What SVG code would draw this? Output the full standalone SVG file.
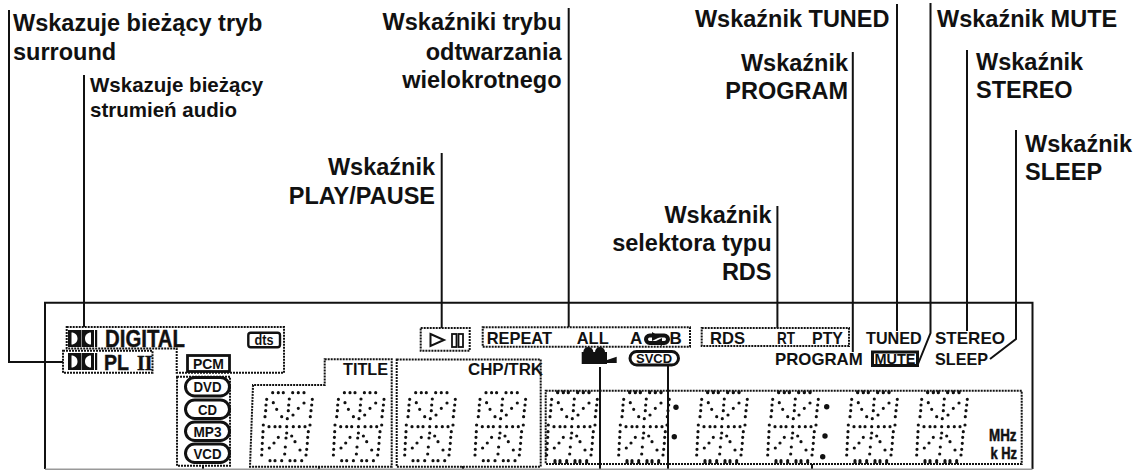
<svg xmlns="http://www.w3.org/2000/svg" width="1144" height="470" viewBox="0 0 1144 470">
<style>
text{font-family:"Liberation Sans",Arial,sans-serif;font-weight:700;fill:#111}
.l{font-size:23.500px}
.s{font-size:20.500px}
.e{text-anchor:end}
.d{font-size:17px}
.m{text-anchor:middle;font-size:15px}
.ln{fill:none;stroke:#111;stroke-width:2}
.box{fill:none;stroke:#111;stroke-width:2;stroke-dasharray:2 1}
.pill{fill:#fff;stroke:#111;stroke-width:3}
.dots{fill:none;stroke:#111;stroke-width:3.200;stroke-linecap:round}
</style>
<defs>
<path id="seg" class="dots" d="M272.700 392.700h0M278.300 392.700h0M283.300 392.700h0M292.700 392.700h0M298.300 392.700h0M304 392.700h0M266.700 399.300h0M266 405h0M265.700 410.700h0M265 416.700h0M273.300 402.700h0M276.700 409.300h0M281.700 416.700h0M287.300 418.700h0M312.300 399.300h0M311.700 405h0M311 410.700h0M310.300 416.700h0M289.300 399h0M288.700 405h0M288.300 410.700h0M304 403h0M298.300 408.300h0M293 415h0M263.300 425h0M269 426.700h0M275 426.700h0M280 426.700h0M286.700 426.700h0M293.300 426.700h0M299.300 426.700h0M305 426.700h0M310 425h0M263 431.700h0M262.700 437.300h0M262.300 443.300h0M262 449.300h0M261.700 455h0M308.300 431.700h0M307.700 437.300h0M307.300 443.300h0M306.700 449.300h0M306 455h0M286.700 433h0M286 438h0M285.300 447h0M284.700 454h0M278.300 437.300h0M274 443h0M269.300 448h0M291.700 436h0M295 441.700h0M300 450h0M270 460.700h0M275 460.700h0M281.700 460.700h0M290 460.700h0M295 460.700h0M301.700 460.700h0"/>
<path id="edge" class="dots" d="M270 462.300h0M275 462.300h0M281.700 462.300h0M290 462.300h0M295 462.300h0M301.700 462.300h0M272.700 391.800h0M278.300 391.800h0M283.300 391.800h0M292.700 391.800h0M298.300 391.800h0M304 391.800h0"/>
<g id="dolby"><path fill="#111" fill-rule="evenodd" d="M0 0H13V17H0ZM3.500 2.500V14.500C7 14.500 9.500 12 9.500 8.500C9.500 5 7 2.500 3.500 2.500Z"/><path fill="#111" fill-rule="evenodd" d="M26 0H13.500V17H26ZM23 2.500V14.500C19.500 14.500 17 12 17 8.500C17 5 19.500 2.500 23 2.500Z"/><rect x="27" y="0" width="2.200" height="17" fill="#111"/></g>
</defs>

<g id="connectors" class="ln">
<path d="M45 469V302.700H1032.500V469"/>
<path d="M9 10V362H63"/>
<path d="M84 75V327"/>
<path d="M441.700 153V328"/>
<path d="M568.700 8V327"/>
<path d="M777.400 206V328"/>
<path d="M852.800 52V352"/>
<path d="M897 4V331"/>
<path d="M930.500 3V333L918 364"/>
<path d="M967 50V331"/>
<path d="M1016 130V339L990 359"/>
<path d="M600 367V470"/>
<path d="M668 366V470"/>
<path d="M203 465V470M319 466V470M463 466V470M812 464V470"/>
</g>
<path id="frame-bottom" d="M45 469.200H1032.500" fill="none" stroke="#999" stroke-width="1.500"/>

<g id="label-surround"><text class="l" x="13" y="31">Wskazuje bieżący tryb</text><text class="l" x="13" y="60">surround</text></g>
<g id="label-audio"><text class="s" x="90" y="92">Wskazuje bieżący</text><text class="s" x="90" y="117">strumień audio</text></g>
<g id="label-playpause"><text class="l e" x="435" y="175">Wskaźnik</text><text class="l e" x="435" y="204">PLAY/PAUSE</text></g>
<g id="label-repeat"><text class="l e" x="561.500" y="30">Wskaźniki trybu</text><text class="l e" x="561.500" y="59.500">odtwarzania</text><text class="l e" x="561.500" y="88">wielokrotnego</text></g>
<g id="label-rds"><text class="l e" x="771.500" y="223">Wskaźnik</text><text class="l e" x="771.500" y="251">selektora typu</text><text class="l e" x="771.500" y="280">RDS</text></g>
<g id="label-program"><text class="l e" x="848" y="71">Wskaźnik</text><text class="l e" x="848" y="99">PROGRAM</text></g>
<g id="label-tuned"><text class="l e" x="889.500" y="26.500">Wskaźnik TUNED</text></g>
<g id="label-mute"><text class="l" x="937" y="26.500">Wskaźnik MUTE</text></g>
<g id="label-stereo"><text class="l" x="976" y="70">Wskaźnik</text><text class="l" x="976" y="98">STEREO</text></g>
<g id="label-sleep"><text class="l" x="1025" y="152">Wskaźnik</text><text class="l" x="1025" y="180">SLEEP</text></g>

<g id="digital">
<path class="box" d="M66.700 327H284V372.700H176.700V348.500H66.700Z"/>
<use href="#dolby" x="68" y="330"/>
<text x="105" y="346.700" font-size="23" stroke="#111" stroke-width=".4" textLength="80" lengthAdjust="spacingAndGlyphs">DIGITAL</text>
<rect x="248.300" y="332.700" width="31.700" height="14.500" rx="2.500" fill="#fff" stroke="#111" stroke-width="2.400"/>
<text x="264" y="345" font-size="14" text-anchor="middle" textLength="19" lengthAdjust="spacingAndGlyphs">dts</text>
</g>
<g id="plii">
<rect class="box" x="63" y="350.700" width="89.500" height="22"/>
<use href="#dolby" x="68" y="353"/>
<text x="104" y="370" font-size="22" stroke="#111" stroke-width=".4" textLength="25" lengthAdjust="spacingAndGlyphs">PL</text>
<text x="137" y="370" font-size="22" stroke="#111" stroke-width=".5" textLength="15.500" lengthAdjust="spacingAndGlyphs" style="font-family:'Liberation Serif',serif">II</text>
</g>
<g id="pcm">
<rect x="187.500" y="355.500" width="42" height="16" fill="#fff" stroke="#111" stroke-width="2.800"/>
<text class="m" x="208.500" y="369" textLength="31" lengthAdjust="spacingAndGlyphs">PCM</text>
</g>
<g id="discs">
<rect class="box" x="177" y="376.700" width="53" height="89"/>
<rect class="pill" x="185.500" y="377.500" width="44" height="18.500" rx="9.200"/>
<rect class="pill" x="185.500" y="400" width="44" height="18.500" rx="9.200"/>
<rect class="pill" x="185.500" y="422" width="44" height="18.500" rx="9.200"/>
<rect class="pill" x="185.500" y="444" width="44" height="18.500" rx="9.200"/>
<text class="m" x="207.500" y="392" font-size="16" textLength="28" lengthAdjust="spacingAndGlyphs">DVD</text>
<text class="m" x="207.500" y="414.500" textLength="19" lengthAdjust="spacingAndGlyphs">CD</text>
<text class="m" x="207.500" y="436.500" textLength="28" lengthAdjust="spacingAndGlyphs">MP3</text>
<text class="m" x="207.500" y="458.500" textLength="28" lengthAdjust="spacingAndGlyphs">VCD</text>
</g>
<g id="title-display">
<path class="box" d="M324.700 359.300H391.700V466.700H250L253 385H324.700Z"/>
<text x="343" y="375" font-size="16" textLength="45" lengthAdjust="spacingAndGlyphs">TITLE</text>
<use href="#seg"/><use href="#seg" x="71.700"/>
</g>
<g id="chptrk-display">
<path class="box" d="M396.700 359.500H540.700V466.700H396.700Z"/>
<text x="468" y="375" font-size="16" textLength="75" lengthAdjust="spacingAndGlyphs">CHP/TRK</text>
<use href="#seg" x="143"/><use href="#seg" x="213.300"/>
</g>
<g id="main-display">
<rect class="box" x="545.700" y="390.700" width="476" height="73.300"/>
<use href="#seg" x="285"/><use href="#seg" x="357"/><use href="#seg" x="435"/><use href="#seg" x="506"/><use href="#seg" x="585"/><use href="#seg" x="655"/>
<use href="#edge" x="285"/><use href="#edge" x="357"/><use href="#edge" x="435"/><use href="#edge" x="506"/><use href="#edge" x="585"/><use href="#edge" x="655"/>
<g fill="#111"><circle cx="676" cy="407.300" r="2.700"/><circle cx="674.300" cy="436.700" r="2.700"/><circle cx="826.700" cy="406.700" r="2.700"/><circle cx="825" cy="436" r="2.700"/><circle cx="822.700" cy="456.700" r="2.700"/></g>
<text x="989" y="440.700" font-size="16" stroke="#111" stroke-width=".5" textLength="27.500" lengthAdjust="spacingAndGlyphs">MHz</text>
<text x="990.500" y="459.300" font-size="16" stroke="#111" stroke-width=".5" textLength="26.500" lengthAdjust="spacingAndGlyphs">k Hz</text>
</g>
<g id="playpause">
<rect class="box" x="420.700" y="328" width="49" height="22.700"/>
<path d="M430.500 334L444 340L430.500 346Z" fill="none" stroke="#111" stroke-width="2"/>
<rect x="452" y="334" width="4.500" height="13" fill="none" stroke="#111" stroke-width="1.800"/>
<rect x="458.500" y="334" width="4.500" height="13" fill="none" stroke="#111" stroke-width="1.800"/>
</g>
<g id="repeat">
<rect class="box" x="482.700" y="327.300" width="207.300" height="19.400"/>
<text class="d" x="486.700" y="344" textLength="65.300" lengthAdjust="spacingAndGlyphs">REPEAT</text>
<text class="d" x="576.700" y="344" textLength="32" lengthAdjust="spacingAndGlyphs">ALL</text>
<text class="d" x="630" y="344">A</text>
<rect x="646" y="335.500" width="22" height="7.500" rx="3.700" fill="none" stroke="#111" stroke-width="4"/>
<path d="M652 332L660 337L652 341ZM662 338L654 342L662 346Z" fill="#111"/>
<text class="d" x="669.500" y="344">B</text>
</g>
<g id="rds">
<rect class="box" x="701.700" y="328" width="147.300" height="18"/>
<text class="d" x="710" y="344" textLength="35" lengthAdjust="spacingAndGlyphs">RDS</text>
<text class="d" x="777" y="344" textLength="18" lengthAdjust="spacingAndGlyphs">RT</text>
<text class="d" x="812" y="344" textLength="31" lengthAdjust="spacingAndGlyphs">PTY</text>
</g>
<g id="camera" fill="#111">
<circle cx="588.300" cy="352" r="5"/><circle cx="600" cy="352" r="5"/>
<rect x="581.700" y="352" width="25.300" height="12"/>
<path d="M607 360L616.700 356.700V363H607Z"/>
</g>
<g id="svcd">
<rect class="pill" x="630" y="351.500" width="48.500" height="13.500" rx="6.700"/>
<text x="654" y="362.800" font-size="13.500" text-anchor="middle" textLength="36" lengthAdjust="spacingAndGlyphs">SVCD</text>
</g>
<g id="tuned"><text class="d" x="866" y="344" textLength="55.700" lengthAdjust="spacingAndGlyphs">TUNED</text></g>
<g id="stereo"><text class="d" x="935" y="344" textLength="70" lengthAdjust="spacingAndGlyphs">STEREO</text></g>
<g id="program"><text class="d" x="775" y="365" textLength="87.700" lengthAdjust="spacingAndGlyphs">PROGRAM</text></g>
<g id="mute">
<rect x="872.500" y="352" width="45" height="13.500" fill="#fff" stroke="#111" stroke-width="3"/>
<text x="895" y="364" font-size="14.500" text-anchor="middle" textLength="41" lengthAdjust="spacingAndGlyphs">MUTE</text>
</g>
<g id="sleep"><text class="d" x="935" y="365" textLength="53" lengthAdjust="spacingAndGlyphs">SLEEP</text></g>
</svg>
